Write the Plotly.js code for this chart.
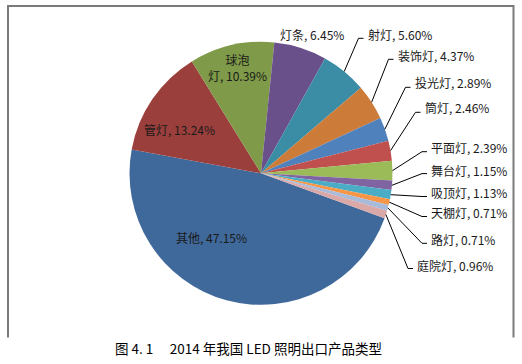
<!DOCTYPE html>
<html>
<head>
<meta charset="utf-8">
<script src="https://cdn.plot.ly/plotly-3.0.1.min.js"></script>
<style>
  html, body { margin: 0; padding: 0; background: #fff; }
  #chart { width: 522px; height: 364px; }
</style>
</head>
<body>
<div id="chart"></div>
<script>
// ---- data ----
const categories = ['其他', '管灯', '球泡灯', '灯条', '射灯', '装饰灯', '投光灯', '筒灯', '平面灯', '舞台灯', '吸顶灯', '天棚灯', '路灯', '庭院灯'];
const values = [47.15, 13.24, 10.39, 6.45, 5.60, 4.37, 2.89, 2.46, 2.39, 1.15, 1.13, 0.71, 0.71, 0.96];
const caption = '图 4. 1　 2014 年我国 LED 照明出口产品类型';

// ---- styles / layout ----
const colors = ['#40699B', '#9B3F3D', '#7F9A48', '#69508A', '#3B8DA6', '#CC7B38', '#4F81BD', '#C0504D', '#9BBB59', '#8064A2', '#4BACC6', '#F79646', '#A8BBDA', '#D9A8A7'];
const W = 522, H = 364;
const cx = 261, cy = 173.3, R = 131.5;
const rotationDeg = 110;
// label placement in pixels: [left-or-center x, y of text centre, leader line y or null, anchor]
const labelPlace = [
  [211.7, 237.7, null, 'center'],
  [179, 129.3, null, 'center'],
  [237.5, 67, null, 'center'],
  [277.5, 34.3, null, 'left'],
  [365.5, 34, 38.3, 'left'],
  [395.5, 55, 59.3, 'left'],
  [412.5, 82.7, 87.3, 'left'],
  [422.5, 107.7, 112.3, 'left'],
  [429, 147.7, 151.7, 'left'],
  [429, 170, 173.6, 'left'],
  [429, 192.7, 196.5, 'left'],
  [429, 212, 216.5, 'left'],
  [429, 239.3, 243.3, 'left'],
  [415, 265, 268.5, 'left']
];
const lineBreakAfter = {2: 2}; // 球泡灯 label wraps after 2 chars

const px2x = p => p / W;
const px2y = p => 1 - p / H;

const total = values.reduce((a, b) => a + b, 0);
let cum = 0;
const annotations = [];
const shapes = [];
const labelFont = {family: 'Noto Sans CJK SC, Noto Sans, sans-serif', size: 12, color: '#1a1a1a'};

categories.forEach((cat, i) => {
  const v = values[i];
  const midDeg = rotationDeg + (cum + v / 2) / total * 360;
  cum += v;
  const a = midDeg * Math.PI / 180;
  const ex = cx + R * Math.sin(a), ey = cy - R * Math.cos(a);
  const [lx, ly, lineY, anchor] = labelPlace[i];
  let name = cat;
  if (lineBreakAfter[i] !== undefined) name = cat.slice(0, lineBreakAfter[i]) + '<br>' + cat.slice(lineBreakAfter[i]);
  const txt = name + ', ' + v.toFixed(2) + '%';
  annotations.push({
    x: px2x(lx), y: px2y(ly), xref: 'paper', yref: 'paper',
    xanchor: anchor, yanchor: 'middle', showarrow: false,
    text: txt, font: labelFont, align: 'center'
  });
  if (lineY !== null) {
    const elbowX = lx - 7, endX = lx - 2;
    shapes.push({
      type: 'path', xref: 'paper', yref: 'paper',
      path: `M ${px2x(ex)} ${px2y(ey)} L ${px2x(elbowX)} ${px2y(lineY)} L ${px2x(endX)} ${px2y(lineY)}`,
      line: {color: '#000', width: 1}
    });
  }
});

// frame (open at bottom)
shapes.push({
  type: 'path', xref: 'paper', yref: 'paper',
  path: `M ${px2x(8)} ${px2y(337.5)} L ${px2x(8)} ${px2y(6)} L ${px2x(513.5)} ${px2y(6)} L ${px2x(513.5)} ${px2y(337.5)}`,
  line: {color: '#7a7a7a', width: 2}
});

annotations.push({
  x: px2x(248), y: px2y(348), xref: 'paper', yref: 'paper',
  xanchor: 'center', yanchor: 'middle', showarrow: false,
  text: caption, font: {family: 'Noto Sans CJK SC, sans-serif', size: 13.5, color: '#000'}
});

const trace = {
  type: 'pie',
  labels: categories,
  values: values,
  sort: false,
  direction: 'clockwise',
  rotation: rotationDeg,
  textinfo: 'none',
  hoverinfo: 'label+percent',
  marker: {colors: colors, line: {width: 0}},
  domain: {x: [(cx - R) / W, (cx + R) / W], y: [px2y(cy + R), px2y(cy - R)]},
  showlegend: false
};

Plotly.newPlot('chart', [trace], {
  width: W, height: H,
  margin: {l: 0, r: 0, t: 0, b: 0},
  paper_bgcolor: '#fff',
  showlegend: false,
  annotations: annotations,
  shapes: shapes
}, {displayModeBar: false, staticPlot: true});
</script>
</body>
</html>
